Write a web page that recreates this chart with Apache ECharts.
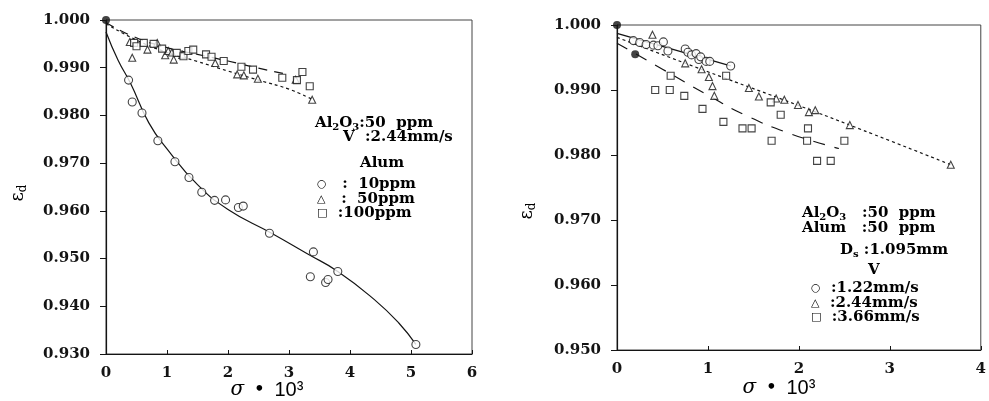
<!DOCTYPE html>
<html>
<head>
<meta charset="utf-8">
<script src="https://cdn.jsdelivr.net/npm/echarts@6/dist/echarts.min.js"></script>
<style>
  html, body { margin: 0; padding: 0; background: #fff; }
  #chart { width: 989px; height: 401px; }
</style>
</head>
<body>
<div id="chart"></div>
<script>
// left panel: Al2O3 50 ppm, V 2.44 mm/s, alum dose
var L_x10 = [0.37, 0.43, 0.59, 0.85, 1.13, 1.36, 1.57, 1.78, 1.96, 2.17, 2.25, 2.68, 3.35, 3.40, 3.60, 3.64, 3.80, 5.08];
var L_y10 = [0.9874, 0.9828, 0.9805, 0.9747, 0.9703, 0.9670, 0.9639, 0.9622, 0.9623, 0.9607, 0.9610, 0.9553, 0.9462, 0.9514, 0.9450, 0.9456, 0.9473, 0.9320];
var L_x50 = [0.39, 0.43, 0.68, 0.84, 0.97, 1.02, 1.08, 1.11, 1.25, 1.79, 2.15, 2.26, 2.49, 3.11, 3.38];
var L_y50 = [0.9954, 0.9921, 0.9938, 0.9952, 0.9926, 0.9935, 0.9932, 0.9917, 0.9927, 0.9910, 0.9886, 0.9884, 0.9877, 0.9875, 0.9833];
var L_x100 = [0.46, 0.50, 0.62, 0.78, 0.92, 1.16, 1.27, 1.35, 1.43, 1.64, 1.73, 1.93, 2.22, 2.41, 2.89, 3.13, 3.22, 3.34];
var L_y100 = [0.9952, 0.9945, 0.9952, 0.9950, 0.9940, 0.9931, 0.9924, 0.9935, 0.9938, 0.9928, 0.9923, 0.9914, 0.9902, 0.9896, 0.9879, 0.9874, 0.9891, 0.9861];
// fitted curves, left
var L_fx10 = [0, 0.2, 0.4, 0.7, 1.0, 1.5, 2.0, 2.7, 3.3, 3.8, 4.4, 4.8, 5.08];
var L_fy10 = [0.9975, 0.9915, 0.9868, 0.9785, 0.9730, 0.9655, 0.9603, 0.9554, 0.9510, 0.9473, 0.9414, 0.9365, 0.9320];
var L_fx50 = [0, 0.5, 1.0, 1.5, 2.0, 2.5, 3.0, 3.39];
var L_fy50 = [0.9992, 0.9958, 0.9932, 0.9913, 0.9893, 0.9874, 0.9855, 0.9833];
var L_fx100 = [0, 0.4, 1.0, 1.5, 2.0, 2.5, 2.9];
var L_fy100 = [0.9995, 0.9968, 0.9942, 0.9928, 0.9914, 0.9899, 0.9888];

// right panel: alum 50 ppm, velocity
var R_x122 = [0.18, 0.25, 0.32, 0.40, 0.45, 0.51, 0.56, 0.75, 0.78, 0.82, 0.87, 0.90, 0.92, 0.98, 1.02, 1.25];
var R_y122 = [0.9976, 0.9973, 0.9970, 0.9969, 0.9968, 0.9974, 0.9960, 0.9963, 0.9958, 0.9954, 0.9956, 0.9947, 0.9951, 0.9944, 0.9944, 0.9937];
var R_x244 = [0.39, 0.75, 0.93, 1.01, 1.05, 1.07, 1.45, 1.56, 1.75, 1.84, 1.99, 2.11, 2.18, 2.56, 3.67];
var R_y244 = [0.9985, 0.9941, 0.9932, 0.9920, 0.9906, 0.9891, 0.9903, 0.9890, 0.9887, 0.9885, 0.9877, 0.9866, 0.9869, 0.9846, 0.9785];
var R_x366 = [0.42, 0.58, 0.59, 0.74, 0.94, 1.17, 1.20, 1.38, 1.48, 1.69, 1.70, 1.80, 2.09, 2.10, 2.20, 2.35, 2.50];
var R_y366 = [0.9900, 0.9900, 0.9922, 0.9891, 0.9871, 0.9851, 0.9922, 0.9841, 0.9841, 0.9881, 0.9822, 0.9862, 0.9822, 0.9841, 0.9791, 0.9791, 0.9822];
var R_xBlob = [0.20];
var R_yBlob = [0.9955];
var R_fx122 = [0, 1.25];
var R_fy122 = [0.9987, 0.9937];
var R_fx244 = [0, 1.0, 2.0, 3.0, 3.67];
var R_fy244 = [0.9981, 0.9928, 0.9876, 0.9822, 0.9785];
var R_fx366 = [0, 0.5, 1.0, 1.4, 1.9, 2.44];
var R_fy366 = [0.9972, 0.9932, 0.9892, 0.9862, 0.9833, 0.9810];

var originX = [0];
var originY = [1.0];

var serif = 'DejaVu Serif';
var ink = '#141414';

function pairs(xs, ys) {
  return xs.map(function (x, i) { return [x, ys[i]]; });
}

function fitLine(xs, ys, idx, dash, smooth) {
  return {
    type: 'line', xAxisIndex: idx, yAxisIndex: idx,
    data: pairs(xs, ys), showSymbol: false, smooth: smooth,
    lineStyle: { color: ink, width: 1.2, type: dash },
    z: 2, silent: true
  };
}

function pts(xs, ys, idx, sym, size) {
  return {
    type: 'scatter', xAxisIndex: idx, yAxisIndex: idx,
    data: pairs(xs, ys), symbol: sym, symbolSize: size,
    itemStyle: { color: '#fff', borderColor: ink, borderWidth: 1.1 },
    z: 3
  };
}

function filled(xs, ys, idx) {
  return {
    type: 'scatter', xAxisIndex: idx, yAxisIndex: idx,
    data: pairs(xs, ys), symbol: 'circle', symbolSize: 8,
    itemStyle: { color: ink }, z: 4
  };
}

function xAx(idx, max) {
  return {
    type: 'value', gridIndex: idx, min: 0, max: max, interval: 1,
    axisLine: { show: true, lineStyle: { color: ink, width: 1.2 } },
    axisTick: { show: true, inside: true, length: 4, lineStyle: { color: ink } },
    axisLabel: { margin: 12, fontFamily: serif, fontWeight: 'bold', fontSize: 15, color: ink },
    splitLine: { show: false }
  };
}

function yAx(idx, min) {
  return {
    type: 'value', gridIndex: idx, min: min, max: 1.0, interval: 0.01,
    axisLine: { show: true, lineStyle: { color: ink, width: 1.2 } },
    axisTick: { show: true, inside: false, length: 6, lineStyle: { color: ink } },
    axisLabel: {
      margin: 16, fontFamily: serif, fontWeight: 'bold', fontSize: 15, color: ink,
      formatter: function (v) { return v.toFixed(3); }
    },
    splitLine: { show: false }
  };
}

var rich = {
  t: { fontFamily: serif, fontWeight: 'bold', fontSize: 15, color: ink, lineHeight: 18 },
  sub: { fontFamily: serif, fontWeight: 'bold', fontSize: 10, color: ink, lineHeight: 18, verticalAlign: 'bottom' },
  m: { fontFamily: 'DejaVu Sans', fontSize: 11, color: ink, lineHeight: 18 }
};

function label(x, y, str) {
  return {
    type: 'text', left: x, top: y,
    style: { text: str, rich: rich }
  };
}

function axisName(x, y) {
  return {
    type: 'text', x: x, y: y, rotation: Math.PI / 2,
    style: {
      text: '{e|ε}{d|d}', textAlign: 'center', textVerticalAlign: 'middle',
      rich: {
        e: { fontFamily: serif, fontSize: 18, color: ink, lineHeight: 22 },
        d: { fontFamily: serif, fontSize: 12, color: ink, lineHeight: 22, verticalAlign: 'bottom' }
      }
    }
  };
}

function sigmaName(x, y) {
  return {
    type: 'text', x: x, y: y,
    style: {
      text: '{s|σ}   {b|•}   {n|10³}', textAlign: 'center', textVerticalAlign: 'middle',
      rich: {
        s: { fontFamily: serif, fontStyle: 'italic', fontSize: 20, color: ink },
        b: { fontFamily: 'DejaVu Sans', fontWeight: 'bold', fontSize: 16, color: ink },
        n: { fontFamily: 'Liberation Sans', fontSize: 20, color: ink }
      }
    }
  };
}

var myChart = echarts.init(document.getElementById('chart'));
myChart.setOption({
  animation: false,
  backgroundColor: '#fff',
  grid: [
    { left: 106, top: 20, width: 366, height: 334, show: true, borderColor: '#444', borderWidth: 1 },
    { left: 617, top: 25, width: 366, height: 325, show: true, borderColor: '#444', borderWidth: 1 }
  ],
  xAxis: [xAx(0, 6), xAx(1, 4)],
  yAxis: [yAx(0, 0.93), yAx(1, 0.95)],
  series: [
    fitLine(L_fx10, L_fy10, 0, 'solid', true),
    fitLine(L_fx50, L_fy50, 0, [3, 3], true),
    fitLine(L_fx100, L_fy100, 0, [9, 7], true),
    pts(L_x10, L_y10, 0, 'circle', 8),
    pts(L_x50, L_y50, 0, 'triangle', 7),
    pts(L_x100, L_y100, 0, 'rect', 7),
    filled(originX, originY, 0),

    fitLine(R_fx122, R_fy122, 1, 'solid', false),
    fitLine(R_fx244, R_fy244, 1, [3, 3], true),
    fitLine(R_fx366, R_fy366, 1, [12, 10], true),
    pts(R_x122, R_y122, 1, 'circle', 8),
    pts(R_x244, R_y244, 1, 'triangle', 7),
    pts(R_x366, R_y366, 1, 'rect', 7),
    filled(R_xBlob, R_yBlob, 1),
    filled(originX, originY, 1)
  ],
  graphic: [
    axisName(18, 193),
    axisName(527, 211),
    sigmaName(267, 390),
    sigmaName(779, 388),

    label(315, 116, '{t|Al}{sub|2}{t|O}{sub|3}{t|:50  ppm}'),
    label(343, 130, '{t|V  :2.44mm/s}'),
    label(360, 156, '{t|Alum}'),
    label(317, 177, '{m|○}{t|   :  10ppm}'),
    label(317, 192, '{m|△}{t|   :  50ppm}'),
    label(317, 206, '{m|□}{t|  :100ppm}'),

    label(802, 206, '{t|Al}{sub|2}{t|O}{sub|3}{t|   :50  ppm}'),
    label(802, 221, '{t|Alum   :50  ppm}'),
    label(840, 243, '{t|D}{sub|s}{t| :1.095mm}'),
    label(868, 263, '{t|V}'),
    label(811, 281, '{m|○}{t|  :1.22mm/s}'),
    label(811, 296, '{m|△}{t|  :2.44mm/s}'),
    label(811, 310, '{m|□}{t|  :3.66mm/s}')
  ]
});
</script>
</body>
</html>
